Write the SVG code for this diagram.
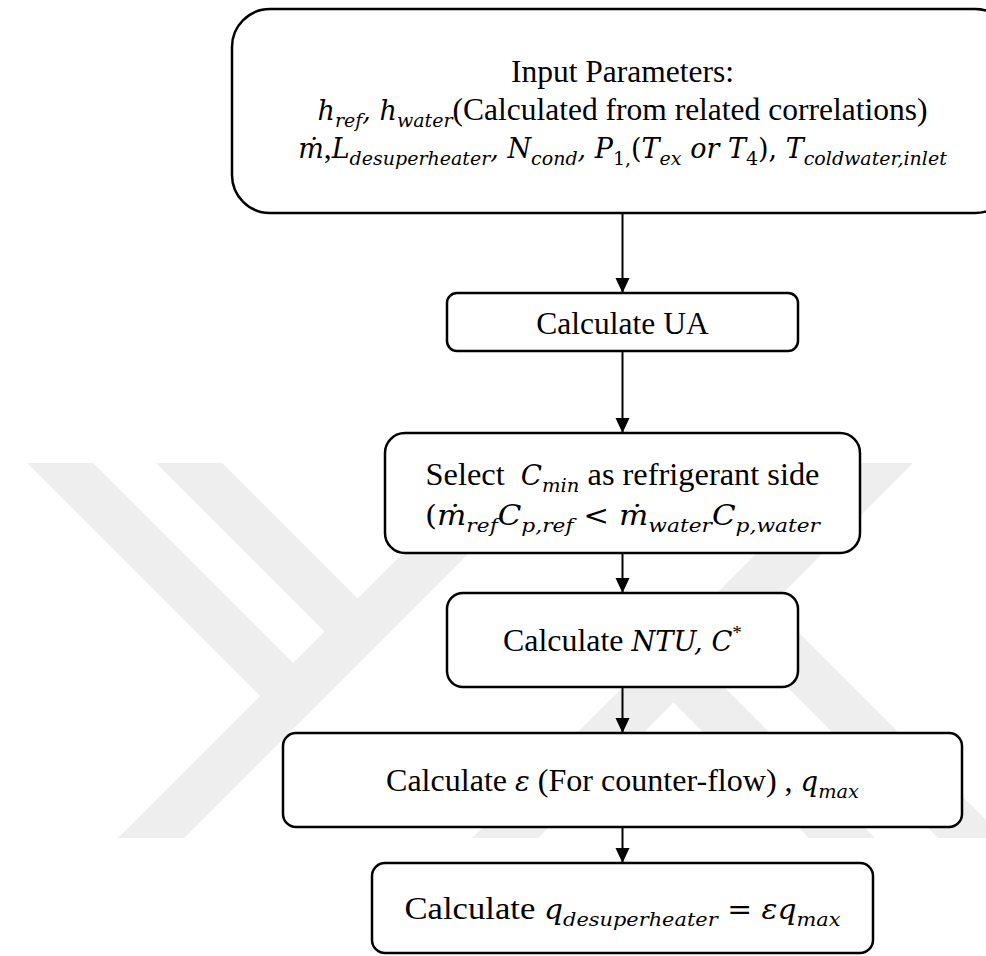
<svg xmlns="http://www.w3.org/2000/svg" width="986" height="956" viewBox="0 0 986 956">
  <defs>
    <style>
      .box { fill: #fff; stroke: #000; stroke-width: 2.5; }
      .t { font-family: "Liberation Serif", "Times New Roman", serif; font-size: 31.5px; fill: #000; }
      .m { font-family: "DejaVu Serif", serif; font-style: italic; font-size: 27px; }
      .u { font-style: normal; }
      .s { font-size: 19px; }
      .edge { stroke: #000; stroke-width: 2; fill: none; marker-end: url(#arrow); }
      .wm { fill: #eeeeee; stroke: none; }
    </style>
    <marker id="arrow" markerUnits="userSpaceOnUse" markerWidth="16" markerHeight="18" refX="15" refY="7" orient="auto" viewBox="0 0 16 14">
      <path d="M0,0 L15,7 L0,14 Z" fill="#000"/>
    </marker>
    <clipPath id="wmclip">
      <rect x="0" y="463" width="986" height="375"/>
    </clipPath>
    <!-- one half of the emblem: a long rising band with two short falling bands -->
    <g id="wm-half">
      <polygon class="wm" points="118,838 184,838 559,463 493,463"/>
      <polygon class="wm" points="27,463 93,463 309.5,679.5 276.5,712.5"/>
      <polygon class="wm" points="156,463 222,463 374,615 341,648"/>
    </g>
  </defs>

  <rect width="986" height="956" fill="#fff"/>

  <!-- faint background emblem, point-symmetric -->
  <g id="watermark" clip-path="url(#wmclip)">
    <use href="#wm-half"/>
    <use href="#wm-half" transform="rotate(180 515.5 650.5)"/>
  </g>

  <!-- connectors -->
  <g id="connectors">
    <line class="edge" x1="622.5" y1="213" x2="622.5" y2="293"/>
    <line class="edge" x1="622.5" y1="351" x2="622.5" y2="433"/>
    <line class="edge" x1="622.5" y1="553" x2="622.5" y2="593"/>
    <line class="edge" x1="622.5" y1="687" x2="622.5" y2="733"/>
    <line class="edge" x1="622.5" y1="827" x2="622.5" y2="863"/>
  </g>

  <g id="input-parameters">
    <rect class="box" x="232" y="9" width="781" height="204" rx="38"/>
    <text class="t" x="622.5" y="82" text-anchor="middle">Input Parameters:</text>
    <text class="t" x="622.5" y="120" text-anchor="middle"><tspan class="m">h</tspan><tspan class="m s" dy="7">ref</tspan><tspan class="m" dy="-7">, h</tspan><tspan class="m s" dy="7">water</tspan><tspan dy="-7">(Calculated from related correlations)</tspan></text>
    <text class="t" x="622.5" y="158" text-anchor="middle"><tspan class="m">ṁ</tspan><tspan>,</tspan><tspan class="m">L</tspan><tspan class="m s" dy="7">desuperheater</tspan><tspan class="m" dy="-7">, N</tspan><tspan class="m s" dy="7">cond</tspan><tspan class="m" dy="-7">, P</tspan><tspan class="m s u" dy="7">1,</tspan><tspan class="m u" dy="-7">(</tspan><tspan class="m">T</tspan><tspan class="m s" dy="7">ex</tspan><tspan class="m" dy="-7"> or T</tspan><tspan class="m s u" dy="7">4</tspan><tspan class="m u" dy="-7">), </tspan><tspan class="m">T</tspan><tspan class="m s" dy="7">coldwater,inlet</tspan></text>
  </g>

  <g id="calculate-ua">
    <rect class="box" x="447" y="293" width="351" height="58" rx="10"/>
    <text class="t" x="622.5" y="334" text-anchor="middle">Calculate UA</text>
  </g>

  <g id="select-cmin">
    <rect class="box" x="385" y="433" width="475" height="120" rx="20"/>
    <text class="t" x="622.5" y="485" text-anchor="middle" textLength="394" lengthAdjust="spacingAndGlyphs">Select&#160; <tspan class="m">C</tspan><tspan class="m s" dy="7">min</tspan><tspan dy="-7"> as refrigerant side</tspan></text>
    <text class="t" x="622.5" y="525" text-anchor="middle" textLength="395" lengthAdjust="spacingAndGlyphs"><tspan class="m u">(</tspan><tspan class="m">ṁ</tspan><tspan class="m s" dy="7">ref</tspan><tspan class="m" dy="-7">C</tspan><tspan class="m s" dy="7">p,ref</tspan><tspan class="m u" dy="-7"> &lt; </tspan><tspan class="m">ṁ</tspan><tspan class="m s" dy="7">water</tspan><tspan class="m" dy="-7">C</tspan><tspan class="m s" dy="7">p,water</tspan></text>
  </g>

  <g id="calculate-ntu">
    <rect class="box" x="447" y="593" width="351" height="94" rx="16"/>
    <text class="t" x="622.5" y="651" text-anchor="middle" textLength="239" lengthAdjust="spacingAndGlyphs">Calculate <tspan class="m">NTU, C</tspan><tspan class="s u" dy="-12">*</tspan></text>
  </g>

  <g id="calculate-effectiveness">
    <rect class="box" x="283" y="733" width="679" height="94" rx="13"/>
    <text class="t" x="622.5" y="791" text-anchor="middle" textLength="473" lengthAdjust="spacingAndGlyphs">Calculate <tspan class="m">ε</tspan> (For counter-flow) , <tspan class="m">q</tspan><tspan class="m s" dy="7">max</tspan></text>
  </g>

  <g id="calculate-q">
    <rect class="box" x="372" y="863" width="501" height="90" rx="13"/>
    <text class="t" x="622.5" y="919" text-anchor="middle" textLength="436" lengthAdjust="spacingAndGlyphs">Calculate <tspan class="m">q</tspan><tspan class="m s" dy="7">desuperheater</tspan><tspan class="m u" dy="-7"> = </tspan><tspan class="m">εq</tspan><tspan class="m s" dy="7">max</tspan></text>
  </g>
</svg>
